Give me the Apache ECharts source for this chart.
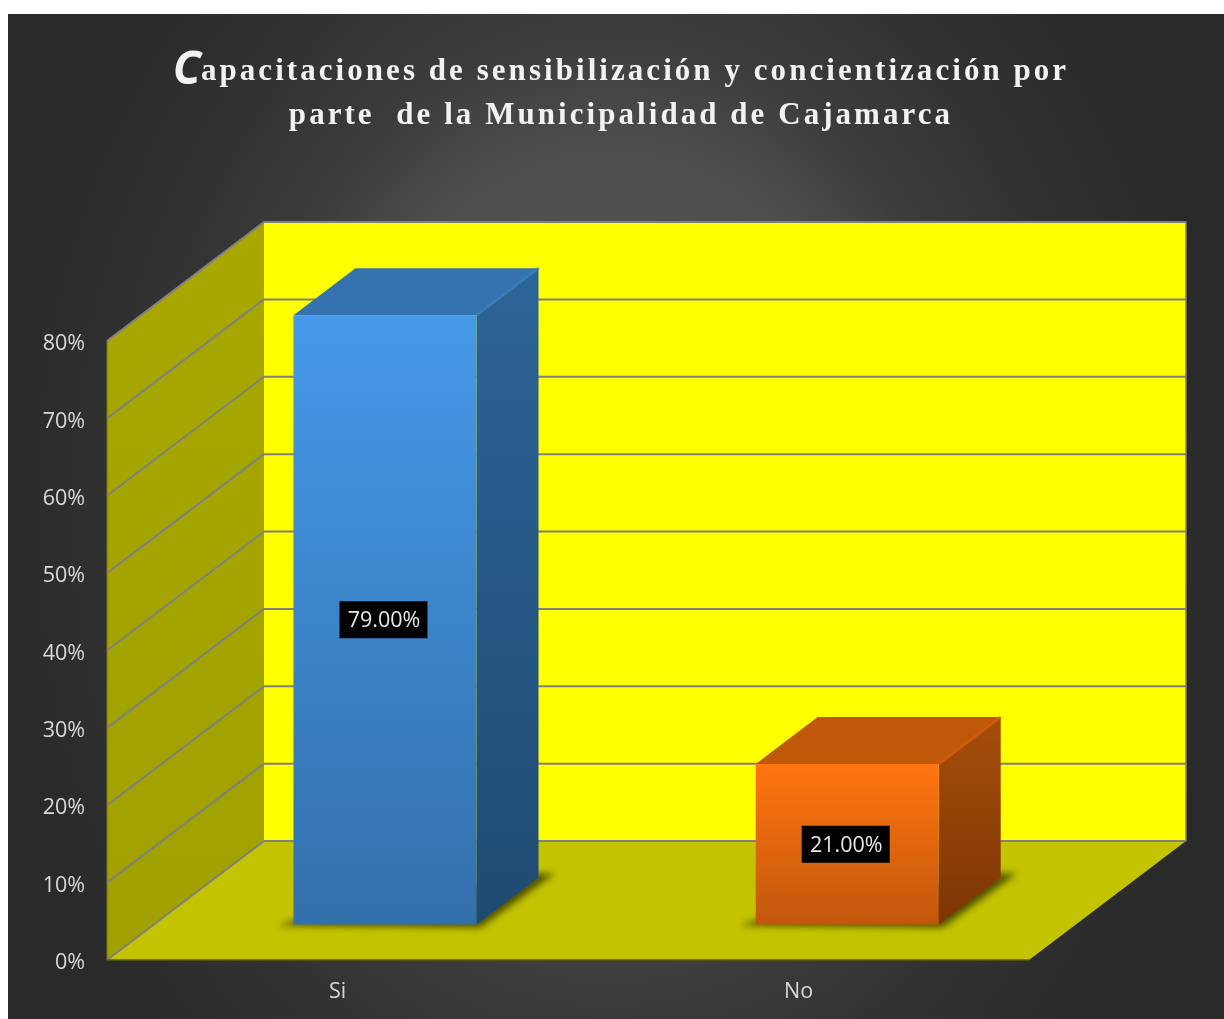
<!DOCTYPE html>
<html>
<head>
<meta charset="utf-8">
<script src="https://cdn.jsdelivr.net/npm/echarts@6/dist/echarts.min.js"></script>
<style>
html,body{margin:0;padding:0;background:#fff;width:1224px;height:1019px;overflow:hidden}
#chart{position:absolute;left:8px;top:14px;width:1216px;height:1005px;
  background:radial-gradient(ellipse 620px 800px at 602px 496px,#5a5a5a 0%,#4e4e4e 45%,#3c3c3c 60%,#333333 75%,#2c2c2c 93%,#2a2a2a 100%)}
</style>
</head>
<body>
<div id="chart"></div>
<script>
const titleFirstLetter = 'C';
const titleLine1 = 'apacitaciones de sensibilización y concientización por';
const titleLine2 = 'parte  de la Municipalidad de Cajamarca';
const categories = ['Si', 'No'];
const values = [79, 21];
const yTicks = [10, 20, 30, 40, 50, 60, 70, 80];

// Title tracking: the canvas letterSpacing applied to the serif title font only
const proto = CanvasRenderingContext2D.prototype;
const origFill = proto.fillText, origMeasure = proto.measureText;
const spaced = (ctx) => { ctx.letterSpacing = ctx.font.indexOf('Liberation Serif') >= 0 ? '3.05px' : '0px'; };
proto.fillText = function (t, x, y, m) { spaced(this); return m === undefined ? origFill.call(this, t, x, y) : origFill.call(this, t, x, y, m); };
proto.measureText = function (t) { spaced(this); return origMeasure.call(this, t); };

const DX = 157, DY = 119;          // oblique projection of full floor depth
const barFrontOffset = 36 / 119;   // bar front plane, fraction of depth
const barDepth = 47 / 119;         // bar depth, fraction of depth
const barWidthRatio = 183 / 461;
const bevelInset = 2.5;            // top bevel of the bars
const bandNudge = 1.2;             // second bar sits slightly further right

const palettes = [
  { front: ['#4699e9', '#3270ab'], top: '#3572ae', side: ['#2d6497', '#1f4a72'], edge: '#3a7dbd' },
  { front: ['#ff7510', '#c2570c'], top: '#c0580a', side: ['#a64e0b', '#7d3504'], edge: '#d05e0c' }
];
const vGrad = (a, b) => ({ type: 'linear', x: 0, y: 0, x2: 0, y2: 1, colorStops: [{ offset: 0, color: a }, { offset: 1, color: b }] });
const poly = (points, fill, extra) => ({ type: 'polygon', shape: { points }, style: Object.assign({ fill }, extra || {}) });
const seg = (x1, y1, x2, y2, stroke, w) => ({ type: 'line', shape: { x1, y1, x2, y2 }, style: { stroke, lineWidth: w || 2 } });

function renderWalls(params, api) {
  const c = params.coordSys;
  const x0 = c.x, x1 = c.x + c.width, yT = c.y, yB = c.y + c.height;
  const G = '#808080';
  return { type: 'group', silent: true, children: [
    poly([[x0 + DX, yT - DY], [x1 + DX, yT - DY], [x1 + DX, yB - DY], [x0 + DX, yB - DY]], '#ffff00'),
    poly([[x0, yT], [x0 + DX, yT - DY], [x0 + DX, yB - DY], [x0, yB]], vGrad('#a8a800', '#a0a000')),
    poly([[x0, yB], [x0 + DX, yB - DY], [x1 + DX, yB - DY], [x1, yB]], '#c3c300'),
    seg(x0, yT, x0 + DX, yT - DY, G, 1.5),
    seg(x0 + DX, yT - DY, x1 + DX, yT - DY, G, 1.5),
    seg(x1 + DX, yT - DY, x1 + DX, yB - DY, G, 1.5),
    seg(x0, yT, x0, yB, '#77770a', 1),
    seg(x0, yB, x0 + DX, yB - DY, G, 2),
    seg(x0 + DX, yB - DY, x1 + DX, yB - DY, G, 2),
    seg(x0, yB, x1, yB, '#5a5a10', 1.5)
  ] };
}

function renderGridLine(params, api) {
  const c = params.coordSys;
  const y = api.coord([0, api.value(0)])[1];
  const G = '#808080';
  return { type: 'group', silent: true, children: [
    seg(c.x, y, c.x + DX, y - DY, G, 2),
    seg(c.x + DX, y - DY, c.x + c.width + DX, y - DY, G, 2)
  ] };
}

function renderBar(params, api) {
  const idx = api.value(0), v = api.value(1);
  const base = api.coord([idx, 0]), top = api.coord([idx, v]);
  const band = api.size([1, 0])[0];
  const w = band * barWidthRatio;
  const ox = DX * barFrontOffset, oy = DY * barFrontOffset;
  const dx = DX * barDepth, dy = DY * barDepth;
  const L = base[0] - w / 2 + ox + idx * bandNudge, R = L + w, B = base[1] - oy + 0.5, T = top[1] - oy + bevelInset;
  const p = palettes[params.dataIndex];
  const off = 3000; // the shape itself lies off-canvas, only its blurred shadow lands on the floor
  const sh = [[L - 16, B + 1], [R + 4, B + 3], [R + dx + 16, B - dy - 4], [R + dx, B - dy - 4], [L, B - 4]].map(q => [q[0] - off, q[1]]);
  const cx = (L + R) / 2 - 1.5, cy = (T + B) / 2;
  return { type: 'group', children: [
    poly(sh, '#000', { shadowBlur: 7, shadowColor: 'rgba(60,60,0,0.85)', shadowOffsetX: off, shadowOffsetY: 0 }),
    poly([[L, T], [L + dx, T - dy], [R + dx, T - dy], [R, T]], p.top),
    poly([[R, T], [R + dx, T - dy], [R + dx, B - dy], [R, B]], vGrad(p.side[0], p.side[1])),
    { type: 'rect', shape: { x: L, y: T, width: w, height: B - T }, style: { fill: vGrad(p.front[0], p.front[1]) } },
    seg(R, T, R + dx, T - dy, p.edge, 2.5),
    { type: 'rect', shape: { x: cx - 44, y: cy - 18.5, width: 88, height: 37 }, style: { fill: '#000' } },
    { type: 'text', style: {
        text: v.toFixed(2) + '%', x: cx + 0.5, y: cy + 1.5, align: 'center', verticalAlign: 'middle',
        fill: '#e8e8e8', font: '21.5px "Open Sans"'
    } }
  ] };
}

const chart = echarts.init(document.getElementById('chart'), null, { renderer: 'canvas' });
chart.setOption({
  animation: false,
  title: {
    left: 608, top: 30.5, textAlign: 'center',
    text: '{c|' + titleFirstLetter + '}{t|' + titleLine1 + '}\n{t|' + titleLine2 + '}',
    textStyle: {
      rich: {
        c: { fontFamily: 'Open Sans', fontStyle: 'italic', fontWeight: 'bold', fontSize: 46, color: '#f2f2f2', lineHeight: 44, verticalAlign: 'bottom' },
        t: { fontFamily: 'Liberation Serif', fontWeight: 'bold', fontSize: 31, color: '#f2f2f2', lineHeight: 44 }
      }
    }
  },
  grid: { left: 99, top: 327, width: 922, height: 619 },
  xAxis: {
    type: 'category', data: categories,
    axisLine: { show: false }, axisTick: { show: false }, splitLine: { show: false },
    axisLabel: { color: '#d9d9d9', fontFamily: 'Open Sans', fontSize: 21.5, margin: 21 }
  },
  yAxis: {
    type: 'value', min: 0, max: 80, interval: 10,
    axisLine: { show: false }, axisTick: { show: false }, splitLine: { show: false },
    axisLabel: {
      margin: 22, formatter: '{a|{value}%}',
      rich: { a: { color: '#d9d9d9', fontFamily: 'Open Sans', fontSize: 21.5, padding: [6, 0, 0, 0] } }
    }
  },
  series: [
    { type: 'custom', name: 'walls', z: 1, clip: false, silent: true, renderItem: renderWalls, data: [[0, 0]] },
    { type: 'custom', name: 'gridlines', z: 2, clip: false, silent: true, renderItem: renderGridLine, data: yTicks.map(t => [t]), encode: { y: 0 } },
    { type: 'custom', name: 'bars', z: 3, clip: false, renderItem: renderBar, data: categories.map((c, i) => [i, values[i]]), encode: { x: 0, y: 1 } }
  ]
});
</script>
</body>
</html>
